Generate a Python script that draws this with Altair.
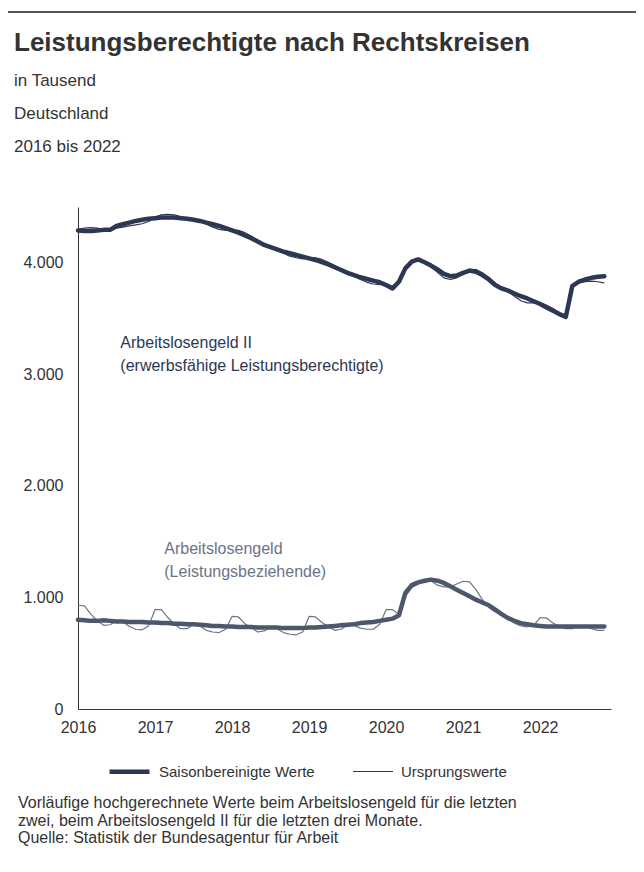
import altair as alt
import pandas as pd

months = pd.date_range("2016-01-01", "2022-11-01", freq="MS")

# Arbeitslosengeld II (erwerbsfähige Leistungsberechtigte), in Tausend
alg2_sa = [
    4290, 4285, 4285, 4290, 4295, 4295, 4330, 4345, 4360, 4375, 4385, 4395,
    4400, 4405, 4405, 4405, 4400, 4395, 4385, 4375, 4360, 4345, 4330, 4310,
    4290, 4270, 4245, 4220, 4190, 4160, 4140, 4120, 4100, 4085, 4070, 4055,
    4040, 4025, 4005, 3985, 3960, 3935, 3910, 3890, 3870, 3855, 3840, 3825,
    3800, 3770, 3830, 3950, 4010, 4030, 4005, 3975, 3940, 3900, 3880, 3885,
    3910, 3930, 3920, 3890, 3850, 3800, 3770, 3750, 3725, 3700, 3680, 3655,
    3630, 3600, 3570, 3540, 3515, 3790, 3830, 3850, 3865, 3875, 3880,
]
alg2_orig = [
    4300, 4310, 4315, 4310, 4300, 4290, 4310, 4320, 4330, 4340, 4350, 4370,
    4410, 4430, 4435, 4430, 4415, 4400, 4385, 4370, 4345, 4320, 4300, 4290,
    4290, 4290, 4270, 4240, 4200, 4160, 4140, 4115, 4085, 4060, 4045, 4035,
    4040, 4045, 4030, 4005, 3975, 3940, 3910, 3880, 3850, 3825, 3810, 3805,
    3810, 3790, 3840, 3960, 4020, 4030, 4000, 3965, 3915, 3865, 3850, 3865,
    3910, 3935, 3940, 3910, 3870, 3820, 3775, 3740, 3700, 3660, 3640, 3640,
    3640, 3620, 3590, 3550, 3520, 3790, 3820, 3830, 3835, 3830, 3820,
]
# Arbeitslosengeld (Leistungsbeziehende), in Tausend
alg_sa = [
    800, 795, 790, 790, 795, 790, 785, 785, 780, 780, 780, 775,
    775, 770, 770, 765, 765, 760, 760, 755, 750, 745, 745, 740,
    740, 735, 735, 735, 730, 730, 730, 730, 725, 725, 725, 725,
    730, 730, 735, 740, 745, 750, 755, 760, 770, 775, 780, 790,
    800, 810, 840, 1040, 1110, 1135, 1150, 1160, 1150, 1130, 1100, 1070,
    1040, 1010, 980, 955, 930, 890, 850, 815, 790, 770, 760, 750,
    745, 740, 740, 740, 740, 740, 740, 740, 740, 740, 740,
]
alg_orig = [
    930, 925, 850, 790, 750, 755, 790, 780, 740, 715, 710, 745,
    890, 890, 820, 760, 720, 720, 760, 745, 705, 690, 685, 715,
    830, 825, 765, 730, 690, 700, 730, 720, 685, 670, 665, 690,
    830, 825, 775, 740, 705, 715, 755, 750, 725, 715, 715, 760,
    890, 890, 850, 1010, 1090, 1120, 1160, 1150, 1110, 1095, 1095, 1120,
    1145, 1140, 1070, 980, 910, 870, 860, 820, 770, 745, 735, 750,
    820, 815, 770, 740, 720, 720, 745, 740, 720, 705, 705,
]

types = ["Saisonbereinigte Werte", "Ursprungswerte"]
year_ticks = [2016, 2017, 2018, 2019, 2020, 2021, 2022]
y_ticks = [0, 1000, 2000, 3000, 4000]

title_text = "Leistungsberechtigte nach Rechtskreisen"
subtitle_text = "in Tausend\nDeutschland\n2016 bis 2022"
footnote_text = ("Vorläufige hochgerechnete Werte beim Arbeitslosengeld für die letzten\n"
                 "zwei, beim Arbeitslosengeld II für die letzten drei Monate.\n"
                 "Quelle: Statistik der Bundesagentur für Arbeit")

label_texts = [
    "Arbeitslosengeld II\n(erwerbsfähige Leistungsberechtigte)",
    "Arbeitslosengeld\n(Leistungsbeziehende)",
]
label_t = [2016.55, 2017.12]
label_v = [3280, 1430]
label_colors = ["#2c3853", "#6b7388"]

rows = []
for reihe, typ, vals in [
    ("ALG II", types[1], alg2_orig),
    ("ALG", types[1], alg_orig),
    ("ALG II", types[0], alg2_sa),
    ("ALG", types[0], alg_sa),
]:
    for d, v in zip(months, vals):
        rows.append({"t": d.year + (d.month - 1) / 12, "wert": v,
                     "reihe": reihe, "typ": typ, "key": reihe + "|" + typ})
df = pd.DataFrame(rows)

lab = pd.DataFrame({"t": label_t, "wert": label_v, "text": label_texts, "farbe": label_colors})
one = pd.DataFrame({"a": [0]})

FONT = "Liberation Sans"
TXT = "#333333"

xenc = alt.X("t:Q", scale=alt.Scale(domain=[2016, 2022.92], nice=False, zero=False),
             axis=alt.Axis(values=year_ticks, format="d", ticks=False, grid=False,
                           labelFlush=False, labelPadding=10, labelFontSize=16,
                           labelColor=TXT, domainColor=TXT, title=None, labelFont=FONT))
yenc = alt.Y("wert:Q", scale=alt.Scale(domain=[0, 4500], nice=False),
             axis=alt.Axis(values=y_ticks,
                           labelExpr="replace(format(datum.value, ','), ',', '.')",
                           ticks=False, grid=False, labelPadding=15, labelFontSize=16,
                           labelColor=TXT, domainColor=TXT, title=None,
                           labelFont=FONT))
colenc = alt.Color("key:N", scale=alt.Scale(
    domain=["ALG II|Saisonbereinigte Werte", "ALG II|Ursprungswerte",
            "ALG|Saisonbereinigte Werte", "ALG|Ursprungswerte"],
    range=["#2c3853", "#2c3853", "#4d576b", "#6b758a"]), legend=None)
legend = alt.Legend(title=None, orient="none", legendX=29, legendY=542,
                    direction="horizontal", symbolType="stroke", symbolSize=1600,
                    symbolStrokeColor="#2c3853", labelFont=FONT, labelFontSize=15,
                    labelColor=TXT, labelOffset=7, columnPadding=35)
swenc = alt.StrokeWidth("typ:N", scale=alt.Scale(domain=types, range=[4.5, 1.2]),
                        legend=legend)

base = alt.Chart(df).encode(x=xenc, y=yenc, color=colenc, strokeWidth=swenc,
                            detail="reihe:N", order="t:Q")
thin = base.transform_filter(alt.datum.typ == types[1]).mark_line(strokeJoin="round")
thick = base.transform_filter(alt.datum.typ == types[0]).mark_line(strokeJoin="round",
                                                                   strokeCap="round")

labels = alt.Chart(lab).mark_text(align="left", baseline="middle", lineBreak="\n",
                                  fontSize=16, lineHeight=23, font=FONT).encode(
    x="t:Q", y="wert:Q", text="text:N", color=alt.Color("farbe:N", scale=None))

top_rule = alt.Chart(one).mark_rule(color="#555555", strokeWidth=2).encode(
    x=alt.value(-70), x2=alt.value(566), y=alt.value(-195))

title = alt.Chart(one).mark_text(align="left", baseline="alphabetic", font=FONT,
                                 fontSize=26, fontWeight="bold", color=TXT).encode(
    x=alt.value(-64), y=alt.value(-156), text=alt.value(title_text))

subtitle = alt.Chart(one).mark_text(align="left", baseline="alphabetic", lineBreak="\n",
                                    font=FONT, fontSize=17, lineHeight=33,
                                    color=TXT).encode(
    x=alt.value(-64), y=alt.value(-121), text=alt.value(subtitle_text))

footnote = alt.Chart(one).mark_text(align="left", baseline="alphabetic", lineBreak="\n",
                                    fontSize=16, lineHeight=17.5, font=FONT,
                                    color=TXT).encode(
    x=alt.value(-60), y=alt.value(601), text=alt.value(footnote_text))

chart = alt.layer(thin, thick, labels, top_rule, title, subtitle, footnote).properties(
    width=533, height=502,
    autosize=alt.AutoSizeParams(type="none"),
    padding={"left": 70, "top": 199, "right": 25, "bottom": 155},
).configure_view(stroke=None)

chart.save("out.html", embed_options={"renderer": "svg", "actions": False})
